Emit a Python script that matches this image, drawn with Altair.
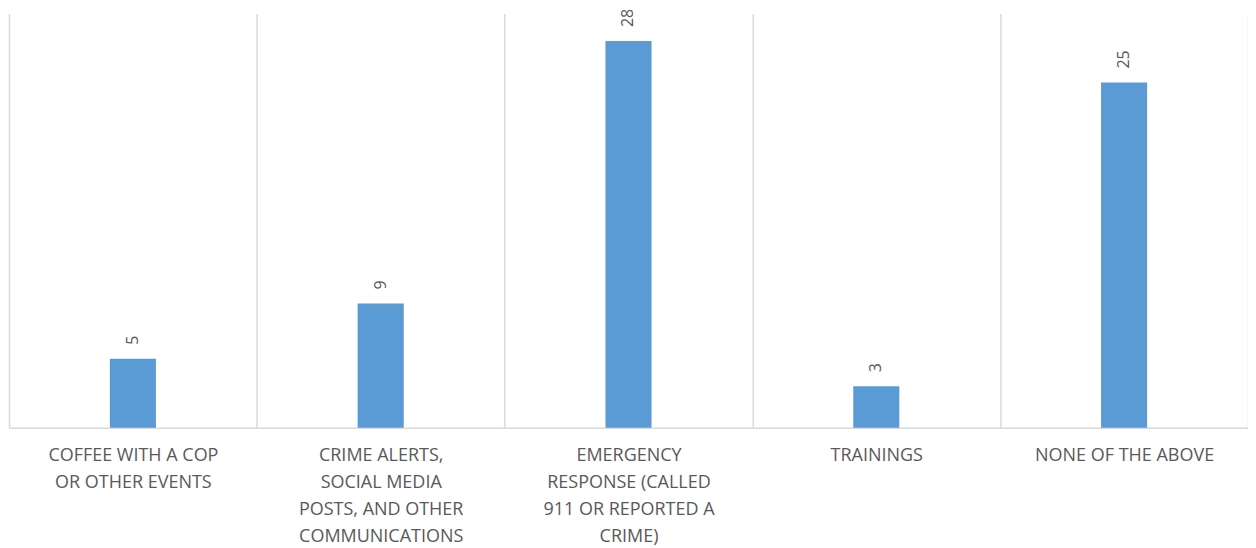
import altair as alt
import pandas as pd

categories = [
    "COFFEE WITH A COP\nOR OTHER EVENTS",
    "CRIME ALERTS,\nSOCIAL MEDIA\nPOSTS, AND OTHER\nCOMMUNICATIONS",
    "EMERGENCY\nRESPONSE (CALLED\n911 OR REPORTED A\nCRIME)",
    "TRAININGS",
    "NONE OF THE ABOVE",
]
values = [5, 9, 28, 3, 25]

df = pd.DataFrame({"category": categories, "value": values})

FONT = "Open Sans"
x = alt.X(
    "category:N",
    sort=categories,
    scale=alt.Scale(paddingInner=0, paddingOuter=0),
    axis=alt.Axis(
        title=None,
        labelExpr="split(datum.label, '\\n')",
        labelAngle=0,
        labelFont=FONT,
        labelFontSize=18,
        labelColor="#595959",
        labelLineHeight=27,
        labelPadding=19,
        labelBaseline="top",
        ticks=False,
        tickBand="extent",
        grid=True,
        gridColor="#d9d9d9",
        gridWidth=1.5,
        domainColor="#d9d9d9",
        domainWidth=1.5,
    ),
)
y = alt.Y("value:Q", scale=alt.Scale(domain=[0, 30], nice=False), axis=None)

bars = alt.Chart(df).mark_bar(color="#5b9bd5", width=alt.RelativeBandSize(0.186)).encode(x=x, y=y)
texts = alt.Chart(df).mark_text(
    angle=270, align="left", baseline="middle", dx=14, font=FONT, fontSize=16, color="#595959"
).encode(x=x, y=y, text="value:Q")

chart = (
    alt.layer(bars, texts)
    .properties(width=1241, height=415, padding={"left": 1, "top": 5, "right": 0, "bottom": 124},
                autosize=alt.AutoSizeParams(type="none"))
    .configure_view(stroke=None)
)
chart.save("out.html", embed_options={"renderer": "svg", "actions": False})
